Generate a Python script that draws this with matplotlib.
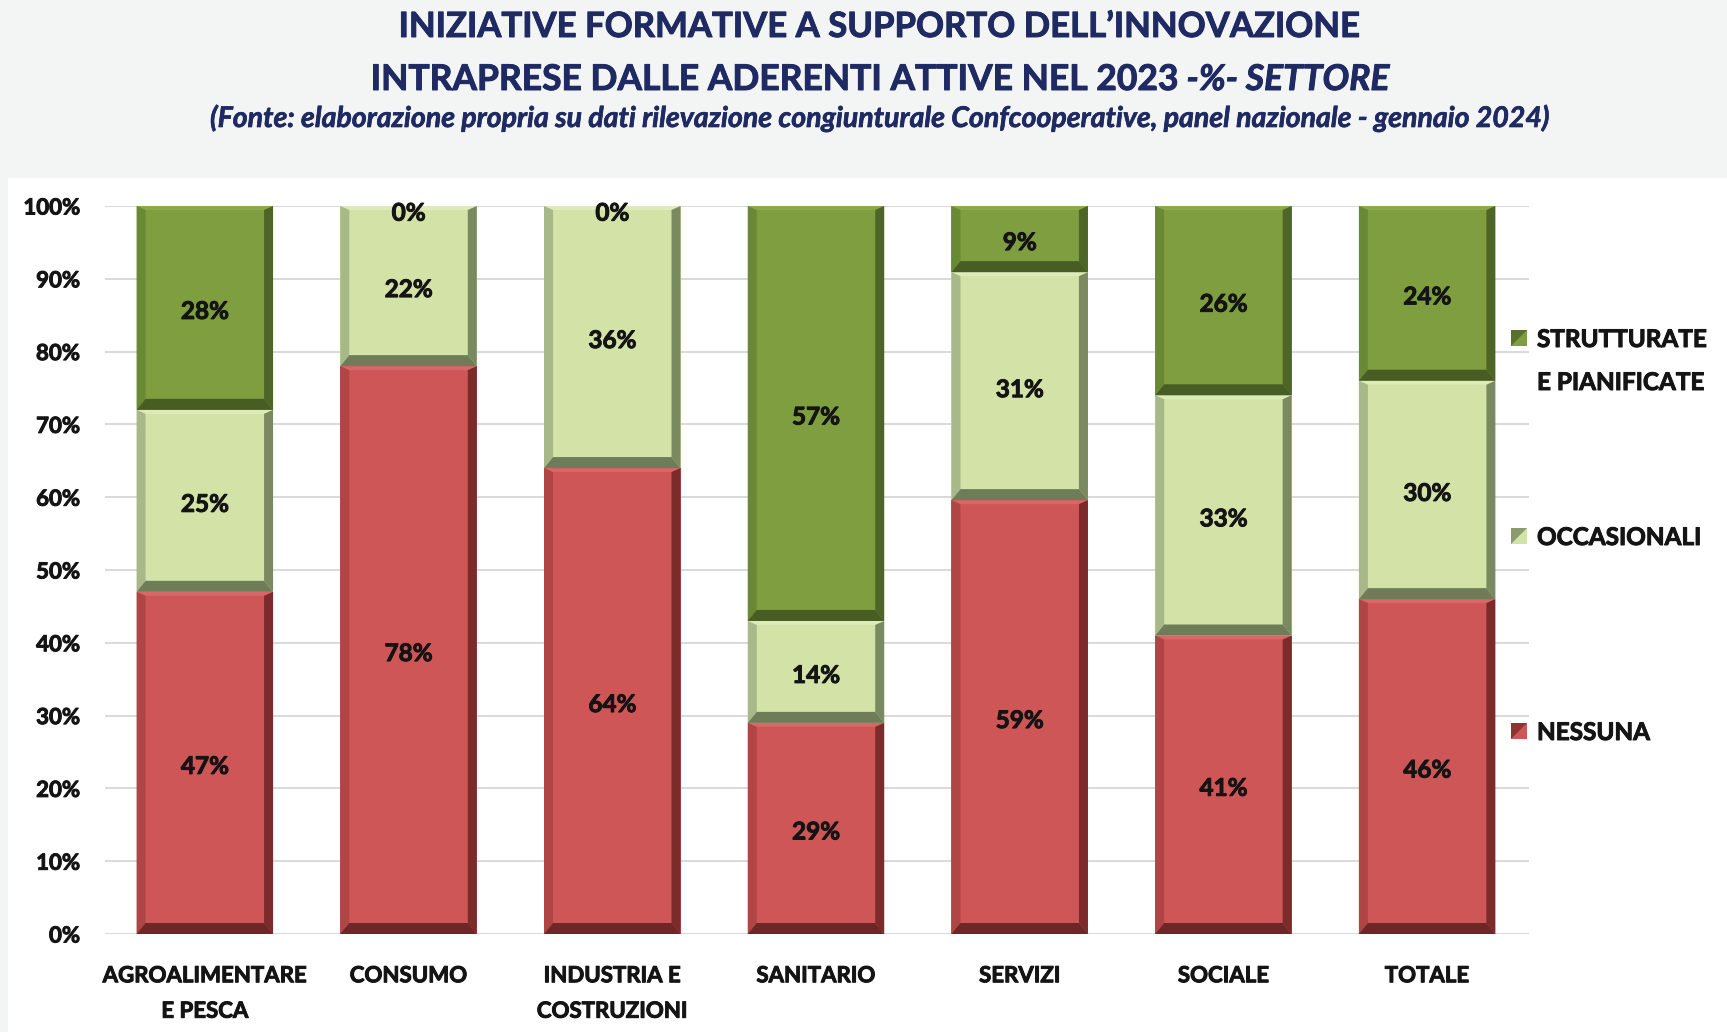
import matplotlib
matplotlib.use('Agg')
import matplotlib.pyplot as plt
from matplotlib import font_manager as fm
from matplotlib.patches import Polygon, Rectangle
import matplotlib.patheffects as pe
import numpy as np

# ---------------- data ----------------
categories = ['AGROALIMENTARE\nE PESCA', 'CONSUMO', 'INDUSTRIA E\nCOSTRUZIONI',
              'SANITARIO', 'SERVIZI', 'SOCIALE', 'TOTALE']
nessuna = [47, 78, 64, 29, 59, 41, 46]
occasionali = [25, 22, 36, 14, 31, 33, 30]
strutturate = [28, 0, 0, 57, 9, 26, 24]
series_names = ['NESSUNA', 'OCCASIONALI', 'STRUTTURATE\nE PIANIFICATE']
ytick_values = [0, 10, 20, 30, 40, 50, 60, 70, 80, 90, 100]
ytick_labels = ['0%', '10%', '20%', '30%', '40%', '50%', '60%', '70%', '80%', '90%', '100%']
title_line1 = 'INIZIATIVE FORMATIVE A SUPPORTO DELL\u2019INNOVAZIONE'
title_line2a = 'INTRAPRESE DALLE ADERENTI ATTIVE NEL 2023 '
title_line2b = '-%- SETTORE'
subtitle = '(Fonte: elaborazione propria su dati rilevazione congiunturale Confcooperative, panel nazionale - gennaio 2024)'

# ---------------- styles ----------------
def pick(fams):
    for f in fams:
        try:
            fm.findfont(fm.FontProperties(family=f), fallback_to_default=False)
            return f
        except Exception:
            pass
    return 'DejaVu Sans'

FONT = pick(['Lato', 'Open Sans', 'DejaVu Sans'])
plt.rcParams['font.family'] = [FONT, 'DejaVu Sans']

# face, top, left, right, bottom
palettes = [
    ('#CF5656', '#DA6767', '#B04545', '#7C2B2B', '#6E2727'),   # nessuna
    ('#D3E2A7', '#DEEAB8', '#A8B889', '#7A8A60', '#6E7C57'),   # occasionali
    ('#7E9E3F', '#8AAA4B', '#6A8934', '#4E6528', '#485D24'),   # strutturate
]
NAVY = '#1F2A63'
TXT = '#141414'

def thick(c, lw=0.7):
    return [pe.withStroke(linewidth=lw, foreground=c)]

W, H = 1727, 1032
fig = plt.figure(figsize=(W / 100, H / 100), dpi=100, facecolor='#F3F5F5')
fig.patches.append(Rectangle((8 / W, 0), 1 - 8 / W, 1 - 178 / H, transform=fig.transFigure,
                             facecolor='white', edgecolor='none', zorder=-5))

ax_l, ax_r, ax_b, ax_t = 105, 1529, 934, 206
ax = fig.add_axes([ax_l / W, 1 - ax_b / H, (ax_r - ax_l) / W, (ax_b - ax_t) / H])
ax.set_zorder(1)
ax.set_facecolor('none')
ax.set_xlim(-0.49, 6.5)
ax.set_ylim(0, 100)

px_x = (ax_r - ax_l) / (6.5 + 0.49)   # pixels per x unit
px_y = (ax_b - ax_t) / 100.0          # pixels per % unit

x = np.arange(len(categories))
series = [np.array(nessuna, float), np.array(occasionali, float), np.array(strutturate, float)]
totals = series[0] + series[1] + series[2]
norm = [s / totals * 100 for s in series]

bw = 0.67
side = 9 / px_x
bot = 11 / px_y
top = 4 / px_y

bottoms = np.zeros(len(categories))
for si, (vals, raw) in enumerate(zip(norm, series)):
    face, ctop, cleft, cright, cbot = palettes[si]
    bars = ax.bar(x, vals, width=bw, bottom=bottoms, color=face, edgecolor='none', zorder=3)
    for b, v, r in zip(bars, vals, raw):
        x0, w = b.get_x(), b.get_width()
        y0, h = b.get_y(), b.get_height()
        x1, y1 = x0 + w, y0 + h
        if h > 0:
            bb = min(bot, h * 0.4)
            tt = min(top, h * 0.2)
            polys = [
                ([(x0, y1), (x1, y1), (x1 - side, y1 - tt), (x0 + side, y1 - tt)], ctop),
                ([(x0, y0), (x0 + side, y0 + bb), (x0 + side, y1 - tt), (x0, y1)], cleft),
                ([(x1, y0), (x1 - side, y0 + bb), (x1 - side, y1 - tt), (x1, y1)], cright),
                ([(x0, y0), (x1, y0), (x1 - side, y0 + bb), (x0 + side, y0 + bb)], cbot),
            ]
            for pts, c in polys:
                ax.add_patch(Polygon(pts, closed=True, facecolor=c, edgecolor='none', zorder=4))
            ly = y0 + h / 2
        else:
            ly = y0 - 0.5
        ax.annotate(f'{int(r)}%', (x0 + w / 2, ly), xytext=(0, -3.5), textcoords='offset pixels',
                    ha='center', va='center', fontsize=17.5, fontweight='bold', color=TXT,
                    zorder=6, path_effects=thick(TXT))
    bottoms = bottoms + vals

# axes styling
ax.set_yticks(ytick_values)
ax.set_yticklabels(ytick_labels)
ax.yaxis.grid(True, color='#D9D9D9', linewidth=1.4, zorder=1)
ax.set_axisbelow(True)
for s in ax.spines.values():
    s.set_visible(False)
ax.tick_params(axis='y', length=0, pad=18, labelsize=16, labelcolor=TXT)
for t in ax.get_yticklabels():
    t.set_fontweight('bold')
    t.set_path_effects(thick(TXT))
ax.set_xticks(x)
ax.set_xticklabels(categories, fontsize=16, fontweight='bold', color=TXT, linespacing=1.85)
for t in ax.get_xticklabels():
    t.set_path_effects(thick(TXT))
ax.tick_params(axis='x', length=0, pad=22.5)

# legend (manual, Excel-like placement)
legend_rows = [  # (series index, baselines of lines in px)
    (2, [347, 390]),
    (1, [545]),
    (0, [740]),
]
for si, baselines in legend_rows:
    face, ctop, cleft, cright, cbot = palettes[si]
    lines = series_names[si].split('\n')
    cy = baselines[0] - 9
    sx0, sx1, sy0, sy1 = 1511, 1527, cy - 8, cy + 8
    fig.patches.append(Rectangle((sx0 / W, 1 - sy1 / H), (sx1 - sx0) / W, (sy1 - sy0) / H,
                                 transform=fig.transFigure, facecolor=face, edgecolor='none', zorder=5))
    fig.patches.append(Polygon([(sx0 / W, 1 - sy1 / H), (sx1 / W, 1 - sy0 / H), (sx0 / W, 1 - sy0 / H)],
                               closed=True, transform=fig.transFigure, facecolor=cright,
                               edgecolor='none', zorder=6, alpha=0.8))
    for ln, bl in zip(lines, baselines):
        fig.text(1537 / W, 1 - bl / H, ln, ha='left', va='baseline', fontsize=17.5,
                 fontweight='bold', color=TXT, path_effects=thick(TXT))

# titles
cx = 880 / W
fig.text(cx, 1 - 37 / H, title_line1, ha='center', va='baseline', fontsize=25,
         fontweight='bold', color=NAVY, path_effects=thick(NAVY))
r = fig.canvas.get_renderer()
ta = fig.text(0, 1 - 90 / H, title_line2a, ha='left', va='baseline', fontsize=25.5,
              fontweight='bold', color=NAVY, path_effects=thick(NAVY))
tb = fig.text(0, 1 - 90 / H, title_line2b, ha='left', va='baseline', fontsize=25.5,
              fontweight='bold', fontstyle='italic', color=NAVY, path_effects=thick(NAVY))
wa = ta.get_window_extent(r).width
wb = tb.get_window_extent(r).width
start = cx * W - (wa + wb) / 2
ta.set_x(start / W)
tb.set_x((start + wa) / W)
fig.text(cx, 1 - 127 / H, subtitle, ha='center', va='baseline', fontsize=20.5,
         fontweight='bold', fontstyle='italic', color=NAVY, path_effects=thick(NAVY, 0.5))

fig.savefig('out.png', dpi=100, facecolor=fig.get_facecolor())
